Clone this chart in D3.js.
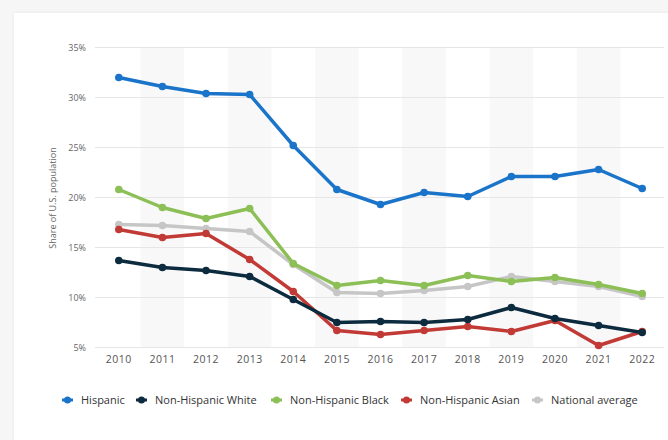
<html>
<head>
<script src="https://d3js.org/d3.v7.min.js"></script>
<style>
  body { margin: 0; background: #f6f6f6; font-family: "Open Sans", sans-serif; }
  .card { position: absolute; left: 14px; top: 13px; width: 700px; height: 460px; background: #fff; box-shadow: 0 0 3px rgba(0,0,0,0.08); }
  svg { position: absolute; left: 0; top: 0; }
</style>
</head>
<body>
<div class="card"></div>
<svg id="chart" width="668" height="440"></svg>
<script>
const years = [2010, 2011, 2012, 2013, 2014, 2015, 2016, 2017, 2018, 2019, 2020, 2021, 2022];
const hispanic = [32.0, 31.1, 30.4, 30.3, 25.2, 20.8, 19.3, 20.5, 20.1, 22.1, 22.1, 22.8, 20.9];
const nhWhite = [13.7, 13.0, 12.7, 12.1, 9.8, 7.5, 7.6, 7.5, 7.8, 9.0, 7.9, 7.2, 6.5];
const nhBlack = [20.8, 19.0, 17.9, 18.9, 13.4, 11.2, 11.7, 11.2, 12.2, 11.6, 12.0, 11.3, 10.4];
const nhAsian = [16.8, 16.0, 16.4, 13.8, 10.6, 6.7, 6.3, 6.7, 7.1, 6.6, 7.7, 5.2, 6.6];
const national = [17.3, 17.2, 16.9, 16.6, 13.3, 10.5, 10.4, 10.7, 11.1, 12.1, 11.6, 11.1, 10.1];
const seriesNames = ["Hispanic", "Non-Hispanic White", "Non-Hispanic Black", "Non-Hispanic Asian", "National average"];
const seriesColors = ["#1a74c9", "#0d2b3e", "#8cbf55", "#c23a36", "#c6c6c6"];
const yTicks = [5, 10, 15, 20, 25, 30, 35];

const series = [hispanic, nhWhite, nhBlack, nhAsian, national];
const svg = d3.select("#chart");

const x = d3.scaleBand().domain(years).range([97, 664]);
const y = d3.scaleLinear().domain([5, 35]).range([347.5, 47.5]);

// alternating column shading
svg.append("g").selectAll("rect")
  .data(years.filter((d, i) => i % 2 === 1))
  .join("rect")
  .attr("x", d => x(d))
  .attr("y", y(35))
  .attr("width", x.bandwidth())
  .attr("height", y(5) - y(35))
  .attr("fill", "#f8f8f8");

// grid
svg.append("g").selectAll("line")
  .data(yTicks)
  .join("line")
  .attr("x1", 95).attr("x2", 664)
  .attr("y1", d => y(d)).attr("y2", d => y(d))
  .attr("stroke", "#e6e6e6")
  .attr("stroke-width", 1);

// y axis labels
const yAxis = svg.append("g")
  .attr("transform", "translate(86,0)")
  .call(d3.axisLeft(y).tickValues(yTicks).tickFormat(d => d + "%").tickSize(0).tickPadding(0));
yAxis.select(".domain").remove();
yAxis.selectAll("text").attr("fill", "#666").style("font-size", "9px").style("font-family", "Open Sans");

// x axis labels
const xAxis = svg.append("g")
  .attr("transform", "translate(0,356)")
  .call(d3.axisBottom(x).tickSize(0).tickPadding(0));
xAxis.select(".domain").remove();
xAxis.selectAll("text").attr("fill", "#555").style("font-size", "10.5px").style("font-family", "Open Sans").style("letter-spacing", "0.5px");

svg.append("text")
  .attr("transform", "translate(56,198) rotate(-90)")
  .attr("text-anchor", "middle")
  .attr("fill", "#666")
  .style("font-size", "9px")
  .text("Share of U.S. population");

const line = d3.line()
  .x((d, i) => x(years[i]) + x.bandwidth() / 2)
  .y(d => y(d));

// draw from bottom so order matches
const order = [4, 3, 1, 2, 0];
order.forEach(k => {
  const g = svg.append("g");
  g.append("path")
    .datum(series[k])
    .attr("d", line)
    .attr("fill", "none")
    .attr("stroke", seriesColors[k])
    .attr("stroke-width", 3.5)
    .attr("stroke-linejoin", "round");
  g.selectAll("circle")
    .data(series[k])
    .join("circle")
    .attr("cx", (d, i) => x(years[i]) + x.bandwidth() / 2)
    .attr("cy", d => y(d))
    .attr("r", 3.8)
    .attr("fill", seriesColors[k]);
});

// legend
const legendX = [62, 136, 271, 401, 532];
const legend = svg.append("g").attr("transform", "translate(0,400)");
seriesNames.forEach((name, i) => {
  const g = legend.append("g").attr("transform", `translate(${legendX[i]},0)`);
  g.append("line").attr("x1", 0).attr("x2", 11).attr("stroke", seriesColors[i]).attr("stroke-width", 3);
  g.append("circle").attr("cx", 5.5).attr("r", 3.5).attr("fill", seriesColors[i]);
  g.append("text").attr("x", 19).attr("dy", "0.35em")
    .attr("fill", "#333").style("font-size", "11px").text(name);
});
</script>
</body>
</html>
